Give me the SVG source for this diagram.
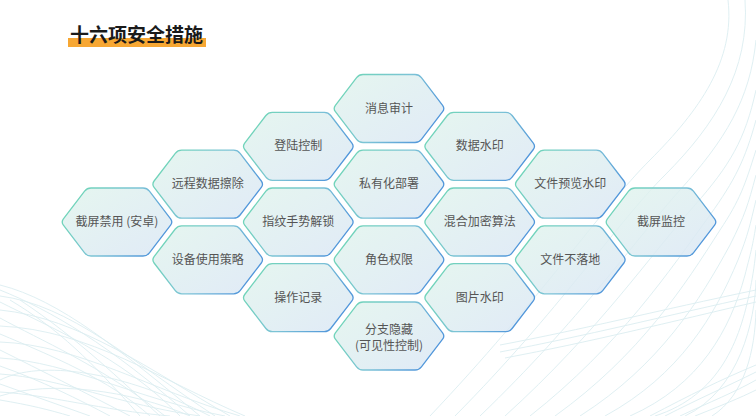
<svg xmlns="http://www.w3.org/2000/svg" xmlns:xlink="http://www.w3.org/1999/xlink" width="756" height="416" viewBox="0 0 756 416">
<defs>
<linearGradient id="hf" x1="0" y1="0" x2="1" y2="1">
<stop offset="0" stop-color="#e0f4ec"/>
<stop offset="1" stop-color="#dae6f5"/>
</linearGradient>
<linearGradient id="hs" x1="0" y1="0.3" x2="1" y2="0.7">
<stop offset="0" stop-color="#6fd6b6"/>
<stop offset="0.5" stop-color="#7cc3d6"/>
<stop offset="1" stop-color="#4a8fdb"/>
</linearGradient>
<path id="hex" d="M -26,-34 L 26,-34 Q 30,-34 32.4,-30.8 L 53.6,-3.2 Q 56,0 53.6,3.2 L 32.4,30.8 Q 30,34 26,34 L -26,34 Q -30,34 -32.4,30.8 L -53.6,3.2 Q -56,0 -53.6,-3.2 L -32.4,-30.8 Q -30,-34 -26,-34 Z"/>
</defs>
<style>
.bg{fill:none;stroke:#dcedf1;stroke-width:1;opacity:0.9}
.h{fill:url(#hf);fill-opacity:0.82;stroke:url(#hs);stroke-width:1.3}
.t{font-family:"Noto Sans CJK SC","Noto Sans",sans-serif;font-size:12px;fill:#555;text-anchor:middle}
.title{font-family:"Noto Sans CJK SC","Noto Sans",sans-serif;font-size:19px;font-weight:bold;fill:#1a1a1a}
</style>
<rect width="756" height="416" fill="#ffffff"/>
<g id="background">
<path class="bg" d="M0,285 C60,300 120,350 200,416"/>
<path class="bg" d="M0,290 C50,310 110,345 190,416"/>
<path class="bg" d="M0,296 C70,305 130,360 215,416"/>
<path class="bg" d="M0,302 C45,325 120,355 180,416"/>
<path class="bg" d="M0,310 C80,318 150,370 230,416"/>
<path class="bg" d="M0,318 C40,340 100,365 165,416"/>
<path class="bg" d="M0,326 C90,330 160,380 245,416"/>
<path class="bg" d="M0,334 C50,355 110,380 150,416"/>
<path class="bg" d="M0,342 C80,345 150,390 240,416"/>
<path class="bg" d="M0,350 C40,370 90,395 130,416"/>
<path class="bg" d="M0,358 C70,362 140,400 225,416"/>
<path class="bg" d="M0,366 C40,380 80,400 110,416"/>
<path class="bg" d="M0,374 C60,378 120,405 200,416"/>
<path class="bg" d="M0,384 C30,395 60,405 90,416"/>
<path class="bg" d="M0,392 C50,395 100,410 170,416"/>
<path class="bg" d="M0,400 C30,405 50,410 70,416"/>
<path class="bg" d="M10,300 C60,330 90,360 140,416"/>
<path class="bg" d="M20,300 C80,340 120,380 160,416"/>
<path class="bg" d="M0,380 C40,360 120,370 210,416"/>
<path class="bg" d="M0,396 C50,380 130,390 190,416"/>
<path class="bg" d="M728,0 C735,60 700,110 650,160 C600,210 540,300 430,416"/>
<path class="bg" d="M745,0 C750,70 715,125 665,175 C615,225 560,310 455,416"/>
<path class="bg" d="M756,40 C750,100 725,140 680,190 C635,240 580,320 480,416"/>
<path class="bg" d="M756,90 C745,140 730,165 695,205 C650,255 600,330 505,416"/>
<path class="bg" d="M756,120 C745,160 735,180 710,215 C670,270 620,345 530,416"/>
<path class="bg" d="M756,150 C745,185 740,200 720,230 C685,285 640,355 555,416"/>
<path class="bg" d="M756,175 C748,205 745,215 730,245 C700,300 660,365 580,416"/>
<path class="bg" d="M756,200 C750,225 748,235 738,260 C715,315 680,375 605,416"/>
<path class="bg" d="M756,225 C752,250 750,255 745,275 C730,330 700,385 630,416"/>
<path class="bg" d="M756,250 C754,270 752,280 750,290 C740,340 720,395 655,416"/>
<path class="bg" d="M756,280 C755,320 740,390 685,416"/>
<path class="bg" d="M756,310 C755,350 745,395 712,416"/>
<path class="bg" d="M500,345 C580,330 660,310 756,290"/>
<path class="bg" d="M500,352 C585,336 665,316 756,296"/>
<path class="bg" d="M505,358 C590,342 670,322 756,302"/>
<path class="bg" d="M650,416 C690,395 720,380 756,365"/>
<path class="bg" d="M665,416 C700,398 728,386 756,372"/>
<path class="bg" d="M680,416 C710,402 735,392 756,380"/>
<path class="bg" d="M695,416 C720,406 740,398 756,390"/>
</g>
<g id="title">
<rect x="68" y="38" width="138" height="9" fill="#f7a733"/>
<text class="title" x="70" y="42">十六项安全措施</text>
</g>
<g id="n-jpjy"><use href="#hex" class="h" x="117" y="222"/><text class="t" x="117" y="226">截屏禁用 (安卓)</text></g>
<g id="n-ycsjcc"><use href="#hex" class="h" x="207.7" y="184.2"/><text class="t" x="207.7" y="188.2">远程数据擦除</text></g>
<g id="n-sbsycl"><use href="#hex" class="h" x="207.7" y="259.8"/><text class="t" x="207.7" y="263.8">设备使用策略</text></g>
<g id="n-dlkz"><use href="#hex" class="h" x="298.3" y="146.3"/><text class="t" x="298.3" y="150.3">登陆控制</text></g>
<g id="n-zwssjs"><use href="#hex" class="h" x="298.3" y="222"/><text class="t" x="298.3" y="226">指纹手势解锁</text></g>
<g id="n-czjl"><use href="#hex" class="h" x="298.3" y="297.7"/><text class="t" x="298.3" y="301.7">操作记录</text></g>
<g id="n-xxsj"><use href="#hex" class="h" x="389" y="108.5"/><text class="t" x="389" y="112.5">消息审计</text></g>
<g id="n-syhbs"><use href="#hex" class="h" x="389" y="184.2"/><text class="t" x="389" y="188.2">私有化部署</text></g>
<g id="n-jsqx"><use href="#hex" class="h" x="389" y="259.8"/><text class="t" x="389" y="263.8">角色权限</text></g>
<g id="n-fzyc"><use href="#hex" class="h" x="389" y="336"/><text class="t" x="389" y="333.5">分支隐藏</text><text class="t" x="389" y="349.5">(可见性控制)</text></g>
<g id="n-sjsy"><use href="#hex" class="h" x="479.7" y="146.3"/><text class="t" x="479.7" y="150.3">数据水印</text></g>
<g id="n-hhjmsf"><use href="#hex" class="h" x="479.7" y="222"/><text class="t" x="479.7" y="226">混合加密算法</text></g>
<g id="n-tpsy"><use href="#hex" class="h" x="479.7" y="297.7"/><text class="t" x="479.7" y="301.7">图片水印</text></g>
<g id="n-wjylsy"><use href="#hex" class="h" x="570.3" y="184.2"/><text class="t" x="570.3" y="188.2">文件预览水印</text></g>
<g id="n-wjbld"><use href="#hex" class="h" x="570.3" y="259.8"/><text class="t" x="570.3" y="263.8">文件不落地</text></g>
<g id="n-jpjk"><use href="#hex" class="h" x="661" y="222"/><text class="t" x="661" y="226">截屏监控</text></g>
<g id="connectors"/>
</svg>
